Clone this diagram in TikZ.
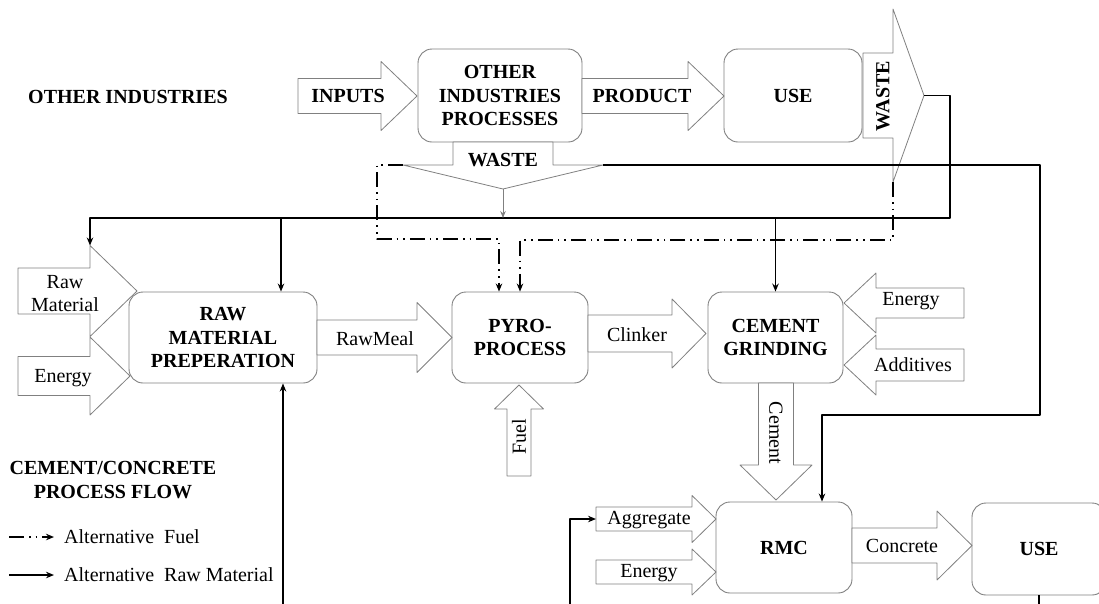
\documentclass[tikz,border=0pt]{standalone}
\usepackage{fontspec}
\setmainfont{Liberation Serif}
\usetikzlibrary{arrows.meta}
\definecolor{edgegray}{RGB}{128,128,128}

% block arrow pointing along the angle: name, base, angle, neck, tip, body half, head half
\newcommand{\flowarrow}[7]{%
	\begin{scope}[shift={#2},rotate=#3]
		\coordinate (#1-base) at (0,0);
		\draw[blockarrow] (0,-#6) -- (#4,-#6) -- (#4,-#7) -- (#5,0) coordinate (#1-tip)
			-- (#4,#7) coordinate (#1-a) -- (#4,#6) -- (0,#6) -- cycle;
		\coordinate (#1-b) at (#4,-#7);
	\end{scope}
}

\begin{document}
\begin{tikzpicture}[x=1pt, y=-1pt, line join=round,
		font=\fontsize{20}{23.5}\selectfont,
		>={Stealth[length=8pt,width=6.5pt]},
		box/.style={draw=edgegray, line width=0.9pt, rounded corners=14pt, fill=white, align=center,
			inner sep=0pt, font=\fontsize{20}{23.5}\selectfont\bfseries},
		blockarrow/.style={draw=edgegray, line width=0.8pt, fill=white},
		lbl/.style={inner sep=0pt, align=center},
		bold/.style={font=\fontsize{20}{23.5}\selectfont\bfseries},
		flow/.style={->, line width=1.5pt},
		altfuel/.style={->, line width=1.5pt, dash pattern=on 15pt off 5pt on 1.6pt off 5pt on 1.6pt off 5pt},
		thinflow/.style={->, draw=edgegray, line width=0.8pt, >={Stealth[length=7pt,width=5.5pt]}}]
	\useasboundingbox (0,0) rectangle (1099,603);
	\def\ybot{606}

	% process boxes
	\node[box, minimum width=164pt, minimum height=93pt] (oip) at (500,95.5) {OTHER\\INDUSTRIES\\PROCESSES};
	\node[box, minimum width=138pt, minimum height=93pt] (use1) at (793,95.5) {USE};
	\node[box, minimum width=188pt, minimum height=91pt] (rmp) at (223,337.5) {RAW\\MATERIAL\\PREPERATION};
	\node[box, minimum width=136pt, minimum height=91pt] (pyro) at (520,337.5) {PYRO-\\PROCESS};
	\node[box, minimum width=135pt, minimum height=91pt] (grind) at (775.5,337.5) {CEMENT\\GRINDING};
	\node[box, minimum width=136pt, minimum height=91pt] (rmc) at (784,547.5) {RMC};
	\node[box, minimum width=134pt, minimum height=92pt] (use2) at (1039,549) {USE};

	% block arrows
	\flowarrow{inputs}{(298,96)}{0}{83}{119}{17.5}{34.5}
	\flowarrow{product}{(582,96)}{0}{106}{142}{17.5}{34.5}
	\flowarrow{wasteR}{(863,95.5)}{0}{30}{61}{42.5}{86.5}
	\flowarrow{wasteD}{(503,142)}{-90}{23}{47}{50}{100}
	\flowarrow{rawin}{(18,291)}{0}{72}{119}{23}{45.5}
	\flowarrow{energyA}{(18,376)}{0}{72}{112}{19.5}{39}
	\flowarrow{rawmeal}{(317,337.5)}{0}{100}{135}{17.5}{35}
	\flowarrow{clinker}{(588,333.5)}{0}{84}{118}{18.5}{34.5}
	\flowarrow{energyB}{(964,303)}{180}{88}{120}{15}{30}
	\flowarrow{additives}{(964,365)}{180}{88}{120}{16}{30}
	\flowarrow{fuel}{(519,476)}{90}{67}{91}{12}{24.5}
	\flowarrow{cement}{(776,383)}{-90}{82}{117}{17.5}{36}
	\flowarrow{aggregate}{(596,519)}{0}{96}{120}{12}{23.5}
	\flowarrow{energyC}{(596,572)}{0}{96}{120}{12}{23}
	\flowarrow{concrete}{(852,545.5)}{0}{85}{120}{17.5}{34.5}

	% labels
	\node[lbl, bold] (t-other) at (128,97) {OTHER INDUSTRIES};
	\node[lbl, bold] (t-inputs) at (348,96) {INPUTS};
	\node[lbl, bold] (t-product) at (642,96) {PRODUCT};
	\node[lbl, bold, rotate=90] (t-wasteR) at (883,96) {WASTE};
	\node[lbl, bold] (t-wasteD) at (503,160) {WASTE};
	\node[lbl] (t-rawin) at (65,293.5) {Raw\\Material};
	\node[lbl] (t-energyA) at (63,378) {Energy};
	\node[lbl] (t-rawmeal) at (375,339) {RawMeal};
	\node[lbl] (t-clinker) at (637,335) {Clinker};
	\node[lbl] (t-energyB) at (911,301) {Energy};
	\node[lbl] (t-additives) at (913,365) {Additives};
	\node[lbl, rotate=90] (t-fuel) at (519,437) {Fuel};
	\node[lbl, rotate=-90] (t-cement) at (776,433) {Cement};
	\node[lbl] (t-aggregate) at (649,520) {Aggregate};
	\node[lbl] (t-energyC) at (649,573) {Energy};
	\node[lbl] (t-concrete) at (902,546) {Concrete};
	\node[lbl, bold] (t-flow) at (113,480) {CEMENT/CONCRETE\\PROCESS FLOW};
	\node[lbl, anchor=west] (lg-fuel) at (64,537) {Alternative~ Fuel};
	\node[lbl, anchor=west] (lg-raw) at (64,575) {Alternative~ Raw Material};

	% connector points
	\coordinate (jA) at (950,218);
	\coordinate (jB) at (1040,415);
	\coordinate (dA) at (377,239);
	\coordinate (dB) at (893,240);
	\coordinate (rmp-in) at ([xshift=58pt]rmp.north);
	\coordinate (rmp-up) at ([xshift=60pt]rmp.south);
	\coordinate (rmc-in) at ([xshift=38pt]rmc.north);
	\coordinate (pyro-inA) at ([xshift=-21pt]pyro.north);
	\coordinate (pyro-inB) at (pyro.north);
	\coordinate (bot) at (0,\ybot);
	\coordinate (aggr-src) at (570,\ybot);

	% alternative raw material
	\draw[flow] (wasteR-tip) -| (jA) -| (rawin-b);
	\draw[flow] (rmp-in |- jA) -- (rmp-in);
	\draw[flow] (grind.north |- jA) -- (grind.north);
	\draw[flow] (wasteD-b) -| (jB) -| (rmc-in);
	\draw[flow] (rmp-up |- bot) -- (rmp-up);
	\draw[flow] (aggr-src) |- (aggregate-base);
	\draw[line width=1.5pt] (use2.south) -- (use2.south |- bot);
	\draw[thinflow] (wasteD-tip) -- (wasteD-tip |- jA);

	% alternative fuel
	\draw[altfuel] (wasteD-a) -| (dA) -| (pyro-inA);
	\draw[altfuel] (wasteR-a) -- (dB) -| (pyro-inB);

	% legend
	\draw[altfuel] ([xshift=-55pt]lg-fuel.west) -- ([xshift=-10pt]lg-fuel.west);
	\draw[flow] ([xshift=-55pt]lg-raw.west) -- ([xshift=-10pt]lg-raw.west);
\end{tikzpicture}
\end{document}
